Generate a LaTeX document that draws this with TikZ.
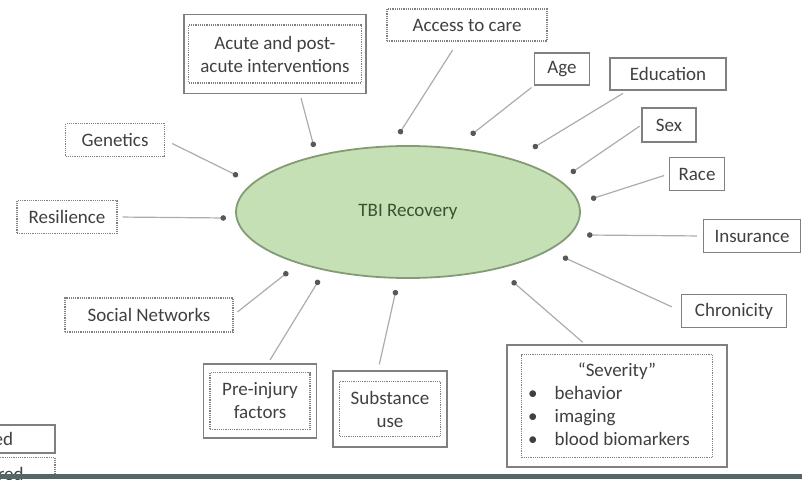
\documentclass[tikz,border=0pt]{standalone}
\usepackage{fontspec}
\setmainfont{Carlito}
\usetikzlibrary{arrows.meta}
\usetikzlibrary{shapes.geometric}
\usetikzlibrary{fit}

\definecolor{boxgray}{RGB}{128,128,128}
\definecolor{linegray}{RGB}{172,172,172}
\definecolor{dotgray}{RGB}{88,88,88}
\definecolor{textgray}{RGB}{64,64,64}
\definecolor{recfill}{RGB}{197,224,180}
\definecolor{recline}{RGB}{132,156,118}
\definecolor{recgreen}{RGB}{58,82,48}
\definecolor{bargray}{RGB}{84,102,104}

\tikzset{
  factor/.style={rectangle, text=textgray, minimum height=33, inner sep=2,
    font=\fontsize{19}{23}\selectfont, align=center},
  dotbox/.style={factor, draw=boxgray, densely dotted, line width=1.2},
  solidbox/.style={factor, draw=boxgray, line width=1.3},
  outerbox/.style={draw=boxgray, line width=1.3, inner xsep=5, inner ysep=9},
  link/.style={draw=linegray, line width=1.2, -{Circle[length=5.5pt,color=dotgray]}}
}

\begin{document}
\begin{tikzpicture}[x=1pt, y=-1pt]
  \useasboundingbox (0,0) rectangle (802,479);
  \clip (0,0) rectangle (802,479);

  % centre
  \node[ellipse, draw=recline, fill=recfill, line width=1.8, minimum width=344,
    minimum height=132, text=recgreen, font=\fontsize{19}{23}\selectfont]
    (recovery) at (408,212) {TBI Recovery};

  % dotted factors
  \node[dotbox, minimum width=99] (genetics) at (115,140) {Genetics};
  \node[dotbox, minimum width=100] (resilience) at (67,217) {Resilience};
  \node[dotbox, minimum width=168, minimum height=34] (social) at (149,315) {Social Networks};
  \node[dotbox, minimum width=160, minimum height=32] (access) at (467,25) {Access to care};

  % solid factors
  \node[solidbox, minimum width=55, minimum height=32] (age) at (562,69) {Age};
  \node[solidbox, minimum width=116, minimum height=32] (education) at (668,74) {Education};
  \node[solidbox, minimum width=54, minimum height=34] (sex) at (669,125) {Sex};
  \node[solidbox, minimum width=55] (race) at (697,174) {Race};
  \node[solidbox, minimum width=97] (insurance) at (752,236) {Insurance};
  \node[solidbox, minimum width=105] (chronicity) at (734,311) {Chronicity};

  % both
  \node[dotbox, minimum width=173, minimum height=58] (acute) at (275,54) {Acute and post-\\acute interventions};
  \node[outerbox, fit=(acute), inner xsep=4, inner ysep=10] (acuteframe) {};
  \node[dotbox, minimum width=100, minimum height=57] (preinjury) at (260,401) {Pre-injury\\factors};
  \node[outerbox, fit=(preinjury), inner xsep=6, inner ysep=8] (preframe) {};
  \node[dotbox, minimum width=101, minimum height=55] (substance) at (390,409) {Substance\\use};
  \node[outerbox, fit=(substance), inner xsep=6, inner ysep=10] (subframe) {};
  \node[dotbox, minimum width=191, minimum height=103] (severity) at (617,406)
    {\begin{tabular}{@{}l@{\hspace{17pt}}l@{}}
       \multicolumn{2}{c}{\hspace*{16pt}“Severity”}\\
       \textbullet & behavior\\
       \textbullet & imaging\\
       \textbullet & blood biomarkers
     \end{tabular}\hspace*{16pt}};
  \node[outerbox, fit=(severity), inner xsep=14, inner ysep=9] (sevframe) {};

  % legend, cut off
  \node[solidbox, minimum width=162, minimum height=28] (measured) at (-26,439) {Measured};
  \node[dotbox, minimum width=162, minimum height=33] (unmeasured) at (-26,474) {Unmeasured};

  % dot ends
  \coordinate (acute-end) at (314,147);
  \coordinate (access-end) at (399,134);
  \coordinate (age-end) at (471,135);
  \coordinate (edu-end) at (533,148);
  \coordinate (sex-end) at (571,173);
  \coordinate (race-end) at (591,199);
  \coordinate (ins-end) at (587,235);
  \coordinate (chron-end) at (563,257);
  \coordinate (sev-end) at (512,281);
  \coordinate (sub-end) at (396,290);
  \coordinate (pre-end) at (319,280);
  \coordinate (soc-end) at (288,272);
  \coordinate (res-end) at (226,218);
  \coordinate (gen-end) at (238,176);

  % connectors
  \draw[link, shorten <=4] ([xshift=25]acuteframe.south) -- (acute-end);
  \draw[link, shorten <=10] ([xshift=-9]access.south) -- (access-end);
  \draw[link, shorten <=3] (age.south west) -- (age-end);
  \draw[link, shorten <=5] ([xshift=18]education.south west) -- (edu-end);
  \draw[link, shorten <=2] (sex.west) -- (sex-end);
  \draw[link, shorten <=5] (race.west) -- (race-end);
  \draw[link, shorten <=6] (insurance.west) -- (ins-end);
  \draw[link, shorten <=10] (chronicity.west) -- (chron-end);
  \draw[link, shorten <=3] ([xshift=-32]sevframe.north) -- (sev-end);
  \draw[link, shorten <=6] ([xshift=-12]subframe.north) -- (sub-end);
  \draw[link, shorten <=4] ([xshift=8]preframe.north) -- (pre-end);
  \draw[link, shorten <=5] (social.east) -- (soc-end);
  \draw[link, shorten <=5] (resilience.east) -- (res-end);
  \draw[link, shorten <=8] (genetics.east) -- (gen-end);

  % bottom strip
  \fill[bargray] (0,474) rectangle (802,479);
\end{tikzpicture}
\end{document}
